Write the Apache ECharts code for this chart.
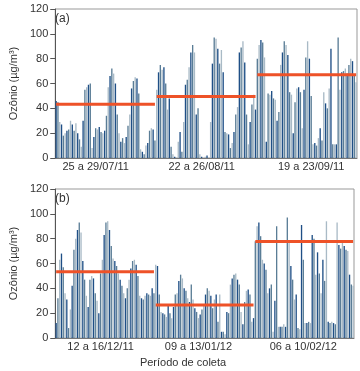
<!DOCTYPE html>
<html>
<head>
<meta charset="utf-8">
<script src="https://cdn.jsdelivr.net/npm/echarts@6/dist/echarts.min.js"></script>
<style>
html, body { margin: 0; padding: 0; background: #fff; }
#chart { width: 360px; height: 371px; }
</style>
</head>
<body>
<div id="chart"></div>
<script>
// periodos de coleta (rotulos do eixo x)
var periodosA = ['25 a 29/07/11', '22 a 26/08/11', '19 a 23/09/11'];
var periodosB = ['12 a 16/12/11', '09 a 13/01/12', '06 a 10/02/12'];

// ozonio (ug/m3), painel (a)
var ozonioA1 = [46,45,29,27,18,20,22,23,30,27,22,28,20,15,9,30,55,57,59,60,8,17,24,23,25,21,20,22,34,57,66,72,68,60,35,20,13,16,12,17,26,35,56,62,65,64,52,7,5,3,10,12,22,24,23,14];
var ozonioA2 = [55,69,75,71,73,60,39,48,9,3,1,0,13,21,5,29,59,63,73,85,91,85,35,40,3,1,0,1,2,0,29,76,97,96,88,76,87,69,21,20,19,8,12,21,35,41,85,89,94,77,35,11,29,43,51,39];
var ozonioA3 = [80,91,95,93,81,13,52,51,54,48,47,30,37,75,85,94,91,83,53,51,20,45,56,57,53,24,55,81,94,80,50,11,12,10,16,24,14,53,44,40,56,88,11,11,11,97,55,69,70,72,68,75,80,78,67,61];

// ozonio (ug/m3), painel (b)
var ozonioB1 = [12,32,63,68,57,36,31,8,23,42,71,80,87,93,85,62,47,34,25,47,50,48,36,30,20,52,63,83,93,94,87,74,64,62,58,52,47,42,36,32,40,47,56,62,63,59,50,34,32,31,34,36,35,34,40,36];
var ozonioB2 = [59,58,35,21,20,19,17,27,20,16,25,35,36,46,51,48,40,38,32,29,43,31,24,21,16,19,23,27,35,40,38,34,24,31,35,13,35,5,5,3,21,20,43,48,51,52,47,43,21,11,29,38,39,35,13,16];
var ozonioB3 = [78,90,93,82,63,60,55,36,40,43,5,30,90,9,9,9,11,9,97,77,58,47,31,35,8,7,91,63,12,12,13,12,83,80,51,69,52,36,63,46,94,13,12,13,12,11,93,75,72,77,74,71,70,51,43,42];

// medias de cada periodo
var mediasA = [43.2, 49.6, 67];
var mediasB = [53.4, 26.5, 77.7];

var cores = ['#1f4f86', '#5a7d96', '#a9bac6'];

var chartDom = document.getElementById('chart');
var myChart = echarts.init(chartDom);

function montaCategorias(blocos, periodos) {
    var cat = [];
    blocos.forEach(function (b, p) {
        b.forEach(function () { cat.push(periodos[p]); });
    });
    return cat;
}

function montaMedias(blocos, medias) {
    // uma serie por periodo, null fora dele
    var total = 0;
    blocos.forEach(function (b) { total += b.length; });
    var out = [];
    var ini = 0;
    blocos.forEach(function (b, p) {
        var d = [];
        for (var i = 0; i < total; i++) {
            d.push(i >= ini && i < ini + b.length ? medias[p] : null);
        }
        out.push(d);
        ini += b.length;
    });
    return out;
}

var blocosA = [ozonioA1, ozonioA2, ozonioA3];
var blocosB = [ozonioB1, ozonioB2, ozonioB3];
var catA = montaCategorias(blocosA, periodosA);
var catB = montaCategorias(blocosB, periodosB);
var valA = [].concat(ozonioA1, ozonioA2, ozonioA3);
var valB = [].concat(ozonioB1, ozonioB2, ozonioB3);
var medA = montaMedias(blocosA, mediasA);
var medB = montaMedias(blocosB, mediasB);

var rotA = [22, 81, 142];
var rotB = [25, 80, 139];

var fonte = 'Liberation Sans, Arial, sans-serif';

function eixoX(idx, cat, rot) {
    return {
        type: 'category',
        gridIndex: idx,
        data: cat,
        axisTick: { show: false },
        axisLine: { lineStyle: { color: '#777', width: 1 } },
        axisLabel: {
            interval: 0,
            margin: 3,
            color: '#333',
            fontSize: 11,
            fontFamily: fonte,
            formatter: function (v, i) { return rot.indexOf(i) >= 0 ? v : ''; }
        }
    };
}

function eixoY(idx) {
    return {
        type: 'value',
        gridIndex: idx,
        min: 0,
        max: 120,
        interval: 20,
        name: 'Ozônio (µg/m³)',
        nameLocation: 'middle',
        nameGap: 36,
        nameTextStyle: { color: '#333', fontSize: 11, fontFamily: fonte },
        axisLine: { show: true, lineStyle: { color: '#555' } },
        axisTick: { show: true, length: 5, lineStyle: { color: '#555' } },
        axisLabel: { margin: 7, color: '#333', fontSize: 11, fontFamily: fonte },
        splitLine: { show: false }
    };
}

function series(idx, val, med) {
    var s = [{
        type: 'bar',
        xAxisIndex: idx,
        yAxisIndex: idx,
        data: val,
        barCategoryGap: '25%',
        itemStyle: {
            color: function (p) { return cores[p.dataIndex % 3]; }
        }
    }];
    med.forEach(function (d) {
        s.push({
            type: 'line',
            xAxisIndex: idx,
            yAxisIndex: idx,
            data: d,
            symbol: 'none',
            z: 5,
            lineStyle: { color: '#ee5228', width: 3 }
        });
    });
    return s;
}

var option = {
    animation: false,
    grid: [
        { left: 49, right: 3, top: 9, height: 149, show: true, borderColor: '#999', borderWidth: 1 },
        { left: 49, right: 6, top: 189, height: 149, show: true, borderColor: '#999', borderWidth: 1 }
    ],
    xAxis: [eixoX(0, catA, rotA), eixoX(1, catB, rotB)],
    yAxis: [eixoY(0), eixoY(1)],
    series: series(0, valA, medA).concat(series(1, valB, medB)),
    graphic: [
        { type: 'text', left: 55, top: 13, style: { text: '(a)', fill: '#333', font: '12px ' + fonte } },
        { type: 'text', left: 55, top: 193, style: { text: '(b)', fill: '#333', font: '12px ' + fonte } },
        { type: 'text', x: 183, y: 357, style: { text: 'Período de coleta', fill: '#333', font: '11px ' + fonte, textAlign: 'center' } }
    ]
};

myChart.setOption(option);
window.addEventListener('resize', myChart.resize);
</script>
</body>
</html>
